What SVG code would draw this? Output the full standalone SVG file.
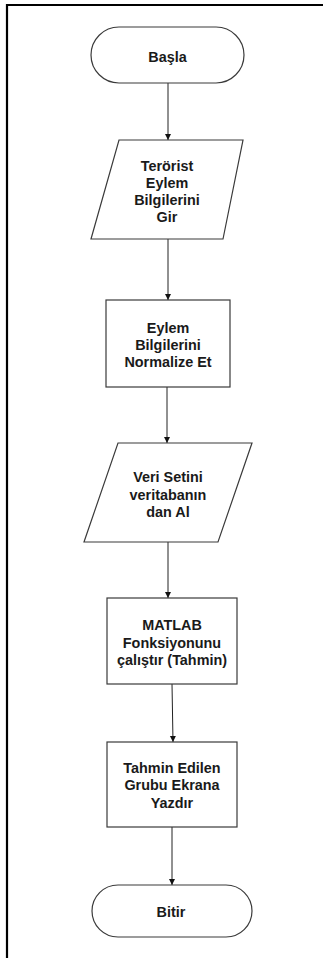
<svg xmlns="http://www.w3.org/2000/svg" width="323" height="958" viewBox="0 0 323 958">
<style>
.shape{fill:#fff;stroke:#3a3a3a;stroke-width:1.2}
.lbl{font-family:"Liberation Sans",Arial,sans-serif;font-weight:bold;font-size:14.4px;fill:#1a1a1a;text-anchor:middle}
.conn{stroke:#222;stroke-width:1;fill:none;marker-end:url(#ah)}
</style>
<defs>
<marker id="ah" viewBox="0 0 6 8" refX="6" refY="4" markerWidth="6" markerHeight="8" markerUnits="userSpaceOnUse" orient="auto">
<path d="M0,1 L6,4 L0,7 Z" fill="#111"/>
</marker>
</defs>
<rect x="0" y="0" width="323" height="958" fill="#fff"/>
<path d="M7,958 V5 H323" fill="none" stroke="#000" stroke-width="2.2"/>
<g id="connectors">
<line class="conn" x1="168" y1="83" x2="168" y2="140"/>
<line class="conn" x1="168" y1="239" x2="168" y2="300"/>
<line class="conn" x1="167" y1="387" x2="167" y2="443"/>
<line class="conn" x1="168" y1="542" x2="168" y2="598"/>
<line class="conn" x1="172" y1="684" x2="173" y2="742"/>
<line class="conn" x1="172" y1="827" x2="172" y2="885"/>
</g>
<g id="start">
<rect class="shape" x="91" y="27" width="153" height="56" rx="28" ry="28"/>
<text class="lbl" x="167.5" y="62">Başla</text>
</g>
<g id="input1">
<polygon class="shape" points="119,140 243,140 223,239 91,239"/>
<text class="lbl" x="167" y="171">Terörist</text>
<text class="lbl" x="167" y="188">Eylem</text>
<text class="lbl" x="167" y="205">Bilgilerini</text>
<text class="lbl" x="167" y="222">Gir</text>
</g>
<g id="normalize">
<rect class="shape" x="106" y="300" width="124" height="87"/>
<text class="lbl" x="168" y="333">Eylem</text>
<text class="lbl" x="168" y="350">Bilgilerini</text>
<text class="lbl" x="168" y="367">Normalize Et</text>
</g>
<g id="input2">
<polygon class="shape" points="118,443 252,443 218,542 84,542"/>
<text class="lbl" x="168" y="482">Veri Setini</text>
<text class="lbl" x="168" y="500">veritabanın</text>
<text class="lbl" x="168" y="517">dan Al</text>
</g>
<g id="matlab">
<rect class="shape" x="107" y="598" width="130" height="86"/>
<text class="lbl" x="172" y="630">MATLAB</text>
<text class="lbl" x="172" y="648">Fonksiyonunu</text>
<text class="lbl" x="172" y="665">çalıştır (Tahmin)</text>
</g>
<g id="output">
<rect class="shape" x="107" y="742" width="130" height="85"/>
<text class="lbl" x="172" y="773">Tahmin Edilen</text>
<text class="lbl" x="172" y="790">Grubu Ekrana</text>
<text class="lbl" x="172" y="808">Yazdır</text>
</g>
<g id="end">
<rect class="shape" x="92" y="885" width="160" height="52" rx="26" ry="26"/>
<text class="lbl" x="171" y="917">Bitir</text>
</g>
</svg>
